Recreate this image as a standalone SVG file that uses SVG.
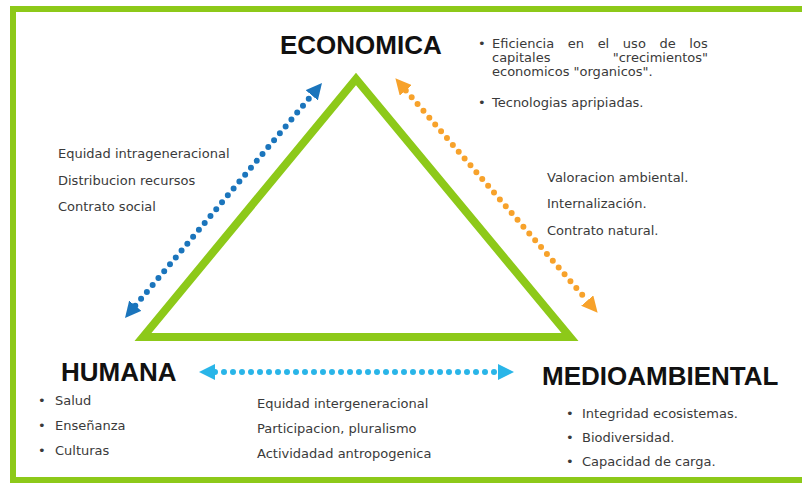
<svg xmlns="http://www.w3.org/2000/svg" width="802" height="484" viewBox="0 0 802 484">
  <style>
    .head { font-family: "Liberation Sans", Arial, sans-serif; font-weight: bold; font-size: 26px; fill: #111; }
    .txt { font-family: "DejaVu Sans", Verdana, sans-serif; font-size: 13px; fill: #3a3a3a; }
    .dot { fill: none; stroke-width: 6; stroke-linecap: round; stroke-dasharray: 0 9; }
  </style>
  <defs>
    <marker id="mBlue" viewBox="0 0 16 16" refX="0" refY="8" markerWidth="16" markerHeight="16" markerUnits="userSpaceOnUse" orient="auto-start-reverse">
      <path d="M0,0 L16,8 L0,16 z" fill="#1b75bc"/>
    </marker>
    <marker id="mOrange" viewBox="0 0 16 16" refX="0" refY="8" markerWidth="16" markerHeight="16" markerUnits="userSpaceOnUse" orient="auto-start-reverse">
      <path d="M0,0 L16,8 L0,16 z" fill="#f7a22b"/>
    </marker>
    <marker id="mCyan" viewBox="0 0 16 16" refX="0" refY="8" markerWidth="16" markerHeight="16" markerUnits="userSpaceOnUse" orient="auto-start-reverse">
      <path d="M0,0 L16,8 L0,16 z" fill="#29b5e8"/>
    </marker>
  </defs>

  <rect width="802" height="484" fill="#fff"/>
  <path d="M802,9 H13 V480 H802" fill="none" stroke="#8dc919" stroke-width="6"/>

  <g id="triangle">
    <polygon points="356,79 143,337 570,337" fill="none" stroke="#8dc919" stroke-width="8" stroke-linejoin="miter"/>
  </g>

  <g id="connectors">
    <line class="dot" x1="135.3" y1="305.7" x2="311.7" y2="95.3" stroke="#1b75bc" marker-start="url(#mBlue)" marker-end="url(#mBlue)"/>
    <line class="dot" x1="405.8" y1="90.4" x2="587.2" y2="300.6" stroke="#f7a22b" marker-start="url(#mOrange)" marker-end="url(#mOrange)"/>
    <line class="dot" x1="215" y1="372" x2="498" y2="372" stroke="#29b5e8" marker-start="url(#mCyan)" marker-end="url(#mCyan)"/>
  </g>

  <g id="economica">
    <text class="head" x="280" y="54">ECONOMICA</text>
    <text class="txt" x="478" y="48">•</text>
    <text class="txt" x="492" y="48" word-spacing="9.5">Eficiencia en el uso de los</text>
    <text class="txt" x="492" y="62">capitales</text>
    <text class="txt" x="708" y="62" text-anchor="end">"crecimientos"</text>
    <text class="txt" x="492" y="76">economicos "organicos".</text>
    <text class="txt" x="478" y="107">•</text>
    <text class="txt" x="492" y="107">Tecnologias apripiadas.</text>
  </g>

  <g id="humana-economica-labels">
    <text class="txt" x="58" y="158">Equidad intrageneracional</text>
    <text class="txt" x="58" y="185">Distribucion recursos</text>
    <text class="txt" x="58" y="211">Contrato social</text>
  </g>

  <g id="economica-medio-labels">
    <text class="txt" x="547" y="182">Valoracion ambiental.</text>
    <text class="txt" x="547" y="208">Internalización.</text>
    <text class="txt" x="547" y="235">Contrato natural.</text>
  </g>

  <g id="humana">
    <text class="head" x="61" y="381">HUMANA</text>
    <text class="txt" x="38" y="405">•</text>
    <text class="txt" x="55" y="405">Salud</text>
    <text class="txt" x="38" y="430">•</text>
    <text class="txt" x="55" y="430">Enseñanza</text>
    <text class="txt" x="38" y="455">•</text>
    <text class="txt" x="55" y="455">Culturas</text>
  </g>

  <g id="humana-medio-labels">
    <text class="txt" x="257" y="408">Equidad intergeneracional</text>
    <text class="txt" x="257" y="433">Participacion, pluralismo</text>
    <text class="txt" x="257" y="458">Actividadad antropogenica</text>
  </g>

  <g id="medioambiental">
    <text class="head" x="542" y="385">MEDIOAMBIENTAL</text>
    <text class="txt" x="566" y="418">•</text>
    <text class="txt" x="582" y="418">Integridad ecosistemas.</text>
    <text class="txt" x="566" y="442">•</text>
    <text class="txt" x="582" y="442">Biodiversidad.</text>
    <text class="txt" x="566" y="466">•</text>
    <text class="txt" x="582" y="466">Capacidad de carga.</text>
  </g>
</svg>
